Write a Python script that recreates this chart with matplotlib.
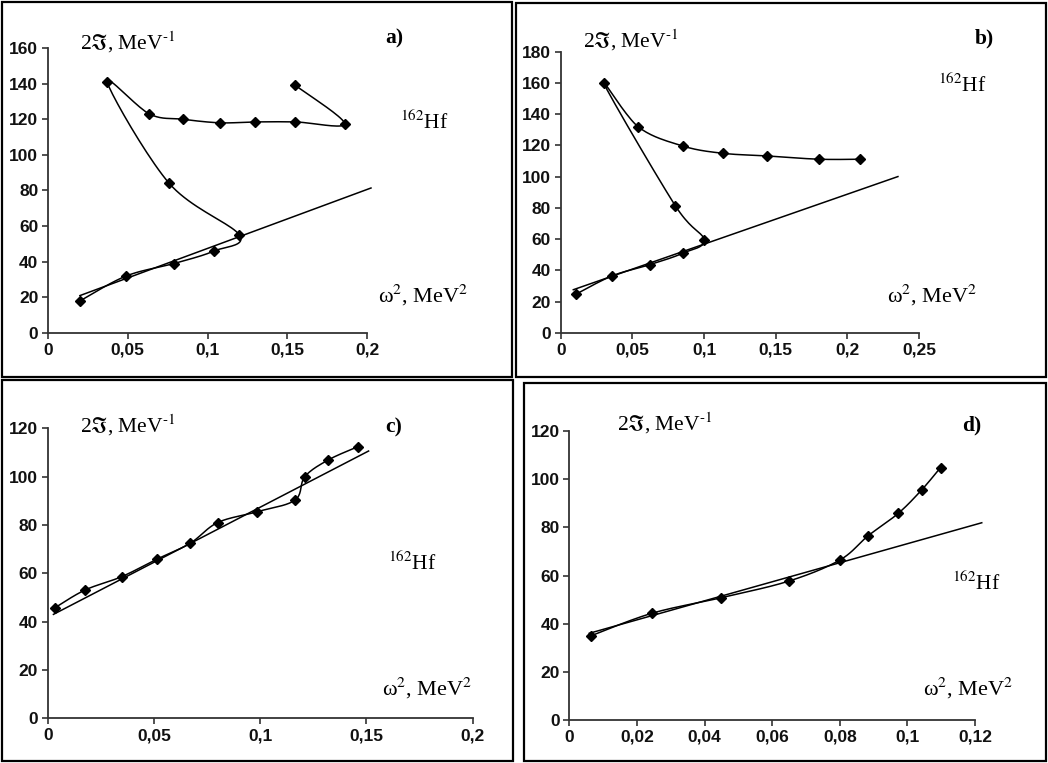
import numpy as np
import matplotlib
matplotlib.use("Agg")
import matplotlib.pyplot as plt
from matplotlib.patches import Rectangle
from matplotlib.ticker import FuncFormatter

plt.rcParams['mathtext.fontset'] = 'stix'

# ---------------- data ----------------
# panel a
a_x = [0.020, 0.049, 0.079, 0.104, 0.120, 0.076, 0.037, 0.0635, 0.0845, 0.108, 0.130, 0.155, 0.186, 0.155]
a_y = [18, 32, 39, 46, 55, 84, 141, 123, 120, 118, 118.5, 118.5, 117.5, 139]
a_fit_x = [0.020, 0.2025]
a_fit_y = [21, 81.4]
a_xticks = [0, 0.05, 0.1, 0.15, 0.2]
a_yticks = [0, 20, 40, 60, 80, 100, 120, 140, 160]

# panel b
b_x = [0.011, 0.036, 0.062, 0.085, 0.100, 0.080, 0.030, 0.054, 0.085, 0.113, 0.144, 0.180, 0.209]
b_y = [25, 36.6, 43.7, 51, 59.6, 81.4, 159.8, 132, 119.7, 115, 113.3, 111.2, 111.2]
b_fit_x = [0.0088, 0.2353]
b_fit_y = [27.7, 100.1]
b_xticks = [0, 0.05, 0.1, 0.15, 0.2, 0.25]
b_yticks = [0, 20, 40, 60, 80, 100, 120, 140, 160, 180]

# panel c
c_x = [0.0035, 0.0176, 0.0348, 0.0513, 0.067, 0.080, 0.0987, 0.1164, 0.121, 0.132, 0.146]
c_y = [45.8, 53.1, 58.6, 65.8, 72.4, 81, 85.5, 90.3, 100, 106.9, 112.4]
c_fit_x = [0.0027, 0.151]
c_fit_y = [43, 110.6]
c_xticks = [0, 0.05, 0.1, 0.15, 0.2]
c_yticks = [0, 20, 40, 60, 80, 100, 120]

# panel d
d_x = [0.0063, 0.0244, 0.045, 0.065, 0.080, 0.0884, 0.0973, 0.1042, 0.1098]
d_y = [34.9, 44.3, 50.8, 57.7, 66.4, 76.5, 85.8, 95.5, 104.8]
d_fit_x = [0.0059, 0.122]
d_fit_y = [36, 81.9]
d_xticks = [0, 0.02, 0.04, 0.06, 0.08, 0.1, 0.12]
d_yticks = [0, 20, 40, 60, 80, 100, 120]

panel_labels = ['a)', 'b)', 'c)', 'd)']
y_label = '2$\\Im$, MeV$^{\\mathrm{\\text{-}1}}$'
x_label = '\u03c9$^{\\mathrm{2}}$, MeV$^{\\mathrm{2}}$'
nucleus = '$^{\\mathrm{162}}$Hf'

# ---------------- drawing ----------------
W, H = 1048, 763
fig = plt.figure(figsize=(W / 100, H / 100), dpi=100)
fig.patch.set_facecolor('white')


def fx(px):
    return px / W


def fy(py):
    return 1 - py / H


def smooth(xs, ys, n=20):
    """Catmull-Rom rendering of a smoothed line through the points."""
    P = np.column_stack([xs, ys]).astype(float)
    P = np.vstack([P[0], P, P[-1]])
    out = []
    for i in range(1, len(P) - 2):
        p0, p1, p2, p3 = P[i - 1], P[i], P[i + 1], P[i + 2]
        t = np.linspace(0, 1, n, endpoint=False)[:, None]
        seg = 0.5 * ((2 * p1) + (-p0 + p2) * t + (2 * p0 - 5 * p1 + 4 * p2 - p3) * t ** 2
                     + (-p0 + 3 * p1 - 3 * p2 + p3) * t ** 3)
        out.append(seg)
    out.append(P[-2][None, :])
    out = np.vstack(out)
    return out[:, 0], out[:, 1]


def fmt(v, pos):
    if abs(v) < 1e-12:
        return '0'
    return ('%g' % v).replace('.', ',')


serif = ['Liberation Serif', 'DejaVu Serif']

panels = [
    dict(x=a_x, y=a_y, fx_=a_fit_x, fy_=a_fit_y, xt=a_xticks, yt=a_yticks,
         ax=(48, 367, 48, 333), border=(2, 2, 512, 377),
         ylab=(80, 42), plab=(385, 38), nuc=(400, 122), xlab=(378, 295)),
    dict(x=b_x, y=b_y, fx_=b_fit_x, fy_=b_fit_y, xt=b_xticks, yt=b_yticks,
         ax=(560.7, 919, 51.7, 333), border=(516, 3, 1046, 377),
         ylab=(583, 40), plab=(975, 38), nuc=(938, 85), xlab=(887, 295)),
    dict(x=c_x, y=c_y, fx_=c_fit_x, fy_=c_fit_y, xt=c_xticks, yt=c_yticks,
         ax=(47.7, 472.7, 428.3, 718.3), border=(2, 380, 513, 761),
         ylab=(80, 425), plab=(385, 427), nuc=(388, 563), xlab=(382, 688)),
    dict(x=d_x, y=d_y, fx_=d_fit_x, fy_=d_fit_y, xt=d_xticks, yt=d_yticks,
         ax=(569.3, 975, 431, 720), border=(524, 383, 1046, 761),
         ylab=(617, 423), plab=(962, 425), nuc=(952, 583), xlab=(923, 688)),
]

for p, lab in zip(panels, panel_labels):
    x0, x1, yt, yb = p['ax']
    ax = fig.add_axes([fx(x0), fy(yb), fx(x1 - x0), (yb - yt) / H])
    ax.set_xlim(p['xt'][0], p['xt'][-1])
    ax.set_ylim(p['yt'][0], p['yt'][-1])
    ax.set_xticks(p['xt'])
    ax.set_yticks(p['yt'])
    ax.xaxis.set_major_formatter(FuncFormatter(fmt))
    ax.yaxis.set_major_formatter(FuncFormatter(fmt))
    for s in ['top', 'right']:
        ax.spines[s].set_visible(False)
    for s in ['left', 'bottom']:
        ax.spines[s].set_linewidth(1.3)
        ax.spines[s].set_color('#333333')
    ax.tick_params(direction='out', length=4, width=1.2, color='#333333',
                   labelsize=12.5, pad=3)
    for t in ax.get_xticklabels() + ax.get_yticklabels():
        t.set_fontfamily('Liberation Sans')
        t.set_fontweight('bold')
        t.set_color('#111111')
    ax.patch.set_alpha(0)

    ax.plot(p['fx_'], p['fy_'], color='black', lw=1.1, clip_on=False)
    sx, sy = smooth(p['x'], p['y'])
    ax.plot(sx, sy, color='black', lw=1.1, clip_on=False)
    ax.plot(p['x'], p['y'], linestyle='none', marker='D', markersize=5,
            color='black', clip_on=False)

    bx0, by0, bx1, by1 = p['border']
    fig.add_artist(Rectangle((fx(bx0), fy(by1)), fx(bx1 - bx0), (by1 - by0) / H,
                             transform=fig.transFigure, fill=False,
                             edgecolor='black', linewidth=1.6))

    fig.text(fx(p['ylab'][0]), fy(p['ylab'][1]), y_label, fontsize=15.5,
             family=serif, va='center', ha='left')
    fig.text(fx(p['plab'][0]), fy(p['plab'][1]), lab, fontsize=15.5,
             family=serif, fontweight='bold', va='center', ha='left')
    fig.text(fx(p['nuc'][0]), fy(p['nuc'][1]), nucleus, fontsize=15.5,
             family=serif, va='center', ha='left')
    fig.text(fx(p['xlab'][0]), fy(p['xlab'][1]), x_label, fontsize=16,
             family=serif, va='center', ha='left')

fig.savefig('out.png', dpi=100, facecolor='white')
